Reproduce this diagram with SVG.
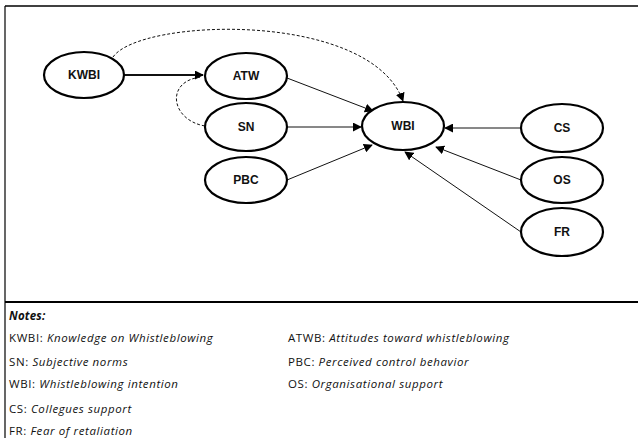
<svg xmlns="http://www.w3.org/2000/svg" width="638" height="438" viewBox="0 0 638 438">
<defs>
<style>
.node ellipse{fill:#fff;stroke:#000;stroke-width:2.2}
.node text{font-family:"Liberation Sans",Arial,sans-serif;font-weight:bold;font-size:12px;text-anchor:middle;fill:#111}
.edge{fill:none;stroke:#111;stroke-width:1}
.thick{stroke-width:2.2}
.dash{stroke-dasharray:3,2}
.note{font-family:"Open Sans","Noto Sans",sans-serif;font-size:11.5px;letter-spacing:0.6px;fill:#111}
.note tspan.i{font-style:italic}
</style>
<marker id="ah" viewBox="0 0 10 10" refX="9" refY="5" markerWidth="9" markerHeight="9" markerUnits="userSpaceOnUse" orient="auto">
<path d="M0,0 L10,5 L0,10 z" fill="#000"/>
</marker>
</defs>
<rect width="638" height="438" fill="#fff"/>
<g id="frame" fill="none" stroke="#000">
<line x1="5" y1="6" x2="638" y2="6" stroke-width="1.5"/>
<line x1="5" y1="6" x2="5" y2="438" stroke-width="1.2"/>
<line x1="5" y1="302" x2="638" y2="302" stroke-width="2"/>
</g>
<g id="connectors">
<line class="edge thick" x1="124" y1="75" x2="203" y2="75" marker-end="url(#ah)"/>
<path class="edge dash" d="M113,57 C140,18 370,10 403,101" marker-end="url(#ah)"/>
<path class="edge dash" d="M205,126 C170,120 165,80 202,77"/>
<line class="edge" x1="287" y1="78" x2="373" y2="111" marker-end="url(#ah)"/>
<line class="edge" x1="287" y1="127" x2="361" y2="127" marker-end="url(#ah)"/>
<line class="edge" x1="287" y1="180" x2="372" y2="145" marker-end="url(#ah)"/>
<line class="edge" x1="521" y1="128" x2="445" y2="128" stroke="#888" marker-end="url(#ah)"/>
<line class="edge" x1="521" y1="180" x2="436" y2="147" marker-end="url(#ah)"/>
<line class="edge" x1="521" y1="232" x2="405" y2="152" marker-end="url(#ah)"/>
</g>
<g id="KWBI" class="node"><ellipse cx="84" cy="75" rx="40" ry="23"/><text x="84" y="79">KWBI</text></g>
<g id="ATW" class="node"><ellipse cx="246" cy="76" rx="41" ry="23"/><text x="246" y="80">ATW</text></g>
<g id="SN" class="node"><ellipse cx="246" cy="127" rx="41" ry="24"/><text x="246" y="131">SN</text></g>
<g id="PBC" class="node"><ellipse cx="246" cy="180" rx="41" ry="23"/><text x="246" y="184">PBC</text></g>
<g id="WBI" class="node"><ellipse cx="403" cy="126" rx="41" ry="24"/><text x="403" y="130">WBI</text></g>
<g id="CS" class="node"><ellipse cx="562" cy="128" rx="41" ry="24"/><text x="562" y="132">CS</text></g>
<g id="OS" class="node"><ellipse cx="562" cy="180" rx="41" ry="23"/><text x="562" y="184">OS</text></g>
<g id="FR" class="node"><ellipse cx="562" cy="232" rx="41" ry="24"/><text x="562" y="236">FR</text></g>
<g id="notes" class="note">
<text x="9" y="320" font-weight="bold" font-style="italic" letter-spacing="0.2">Notes:</text>
<text x="9" y="342">KWBI: <tspan class="i">Knowledge on Whistleblowing</tspan></text>
<text x="288" y="342">ATWB: <tspan class="i">Attitudes toward whistleblowing</tspan></text>
<text x="9" y="366">SN: <tspan class="i">Subjective norms</tspan></text>
<text x="288" y="366">PBC: <tspan class="i">Perceived control behavior</tspan></text>
<text x="9" y="388">WBI: <tspan class="i">Whistleblowing intention</tspan></text>
<text x="288" y="388">OS: <tspan class="i">Organisational support</tspan></text>
<text x="9" y="413">CS: <tspan class="i">Collegues support</tspan></text>
<text x="9" y="435">FR: <tspan class="i">Fear of retaliation</tspan></text>
</g>
</svg>
